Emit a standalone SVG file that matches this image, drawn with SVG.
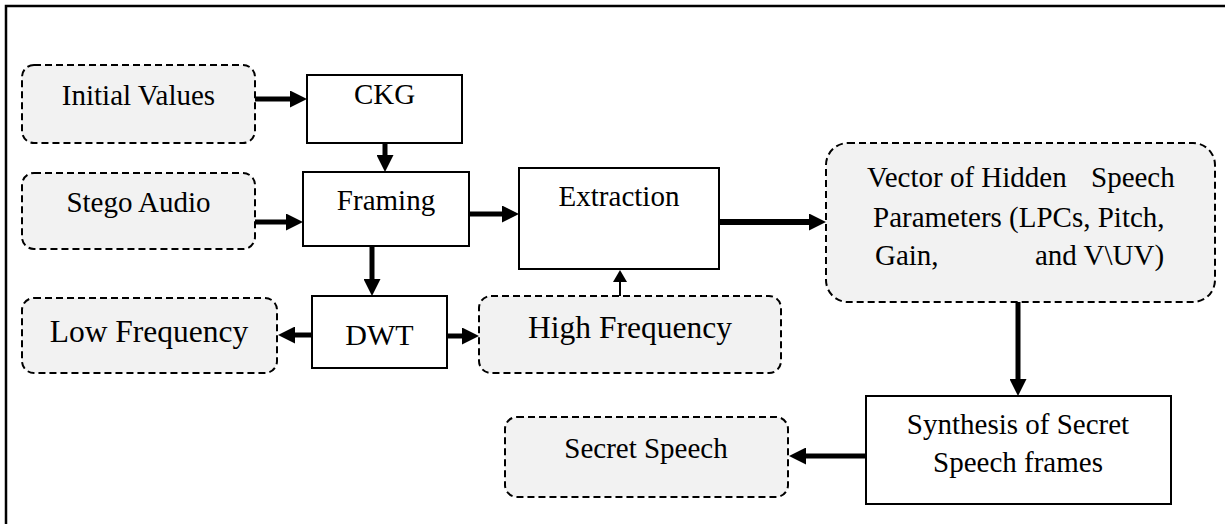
<svg xmlns="http://www.w3.org/2000/svg" width="1225" height="524" viewBox="0 0 1225 524">
  <style>
    .box { fill: #ffffff; stroke: #000000; stroke-width: 2; }
    .dbox { fill: #f2f2f2; stroke: #000000; stroke-width: 2; stroke-dasharray: 7 4; }
    .lbl { font-family: "Liberation Serif", "Times New Roman", serif; font-size: 29px; fill: #000000; }
    .big { font-size: 31.5px; }
    .mid { font-size: 30px; }
    .mid-anchor { text-anchor: middle; }
    .conn { fill: none; stroke: #000000; stroke-width: 5; }
    .thin { fill: none; stroke: #000000; stroke-width: 2; }
  </style>
  <defs>
    <marker id="ah" viewBox="0 0 17 17" refX="7" refY="8.5" markerWidth="17" markerHeight="17" markerUnits="userSpaceOnUse" orient="auto">
      <path d="M0,0 L17,8.5 L0,17 z" fill="#000000"/>
    </marker>
    <marker id="ahs" viewBox="0 0 12 14" refX="6" refY="7" markerWidth="12" markerHeight="14" markerUnits="userSpaceOnUse" orient="auto">
      <path d="M0,0 L12,7 L0,14 z" fill="#000000"/>
    </marker>
  </defs>

  <!-- frame -->
  <path d="M6,524 V6 H1225" fill="none" stroke="#000000" stroke-width="2.5"/>

  <g id="initial-values">
    <rect class="dbox" x="22" y="65" width="233" height="78" rx="12"/>
    <text class="lbl mid-anchor" x="138.5" y="105">Initial Values</text>
  </g>
  <g id="ckg">
    <rect class="box" x="307" y="75" width="155" height="68"/>
    <text class="lbl mid-anchor" x="384.5" y="104">CKG</text>
  </g>
  <g id="stego-audio">
    <rect class="dbox" x="22" y="173" width="233" height="76" rx="12"/>
    <text class="lbl mid-anchor" x="138.5" y="212">Stego Audio</text>
  </g>
  <g id="framing">
    <rect class="box" x="303" y="172" width="166" height="74"/>
    <text class="lbl mid-anchor" x="386" y="210">Framing</text>
  </g>
  <g id="extraction">
    <rect class="box" x="519" y="168" width="200" height="101"/>
    <text class="lbl mid-anchor" x="619" y="206">Extraction</text>
  </g>
  <g id="low-frequency">
    <rect class="dbox" x="22" y="298" width="255" height="75" rx="12"/>
    <text class="lbl big mid-anchor" x="149" y="342">Low Frequency</text>
  </g>
  <g id="dwt">
    <rect class="box" x="312" y="296" width="135" height="72"/>
    <text class="lbl mid mid-anchor" x="379.5" y="345">DWT</text>
  </g>
  <g id="high-frequency">
    <rect class="dbox" x="479" y="296" width="302" height="77" rx="12"/>
    <text class="lbl big mid-anchor" x="630" y="338">High Frequency</text>
  </g>
  <g id="speech-parameters">
    <rect class="dbox" x="826" y="143" width="389" height="159" rx="22"/>
    <text class="lbl" xml:space="preserve"><tspan x="867" y="187">Vector of Hidden</tspan><tspan x="1091" y="187">Speech</tspan><tspan x="873" y="227">Parameters (LPCs, Pitch,</tspan><tspan x="875" y="265">Gain,</tspan><tspan x="1035" y="265">and V\UV)</tspan></text>
  </g>
  <g id="synthesis">
    <rect class="box" x="866" y="396" width="305" height="108"/>
    <text class="lbl mid-anchor"><tspan x="1018" y="434">Synthesis of Secret</tspan><tspan x="1018" y="472">Speech frames</tspan></text>
  </g>
  <g id="secret-speech">
    <rect class="dbox" x="505" y="417" width="283" height="80" rx="12"/>
    <text class="lbl mid-anchor" x="646" y="458">Secret Speech</text>
  </g>

  <g id="connectors">
    <path class="conn" d="M255,99 H297" marker-end="url(#ah)"/>
    <path class="conn" d="M385,143 V162" marker-end="url(#ah)"/>
    <path class="conn" d="M255,222 H293" marker-end="url(#ah)"/>
    <path class="conn" d="M470,214 H509" marker-end="url(#ah)"/>
    <path class="conn" style="stroke-width:6" d="M719,222 H816" marker-end="url(#ah)"/>
    <path class="conn" d="M372,246 V286" marker-end="url(#ah)"/>
    <path class="conn" d="M312,335 H288" marker-end="url(#ah)"/>
    <path class="conn" d="M447,336 H469" marker-end="url(#ah)"/>
    <path class="thin" d="M620,296 V276" marker-end="url(#ahs)"/>
    <path class="conn" d="M1018,302 V386" marker-end="url(#ah)"/>
    <path class="conn" d="M866,456 H799" marker-end="url(#ah)"/>
  </g>
</svg>
